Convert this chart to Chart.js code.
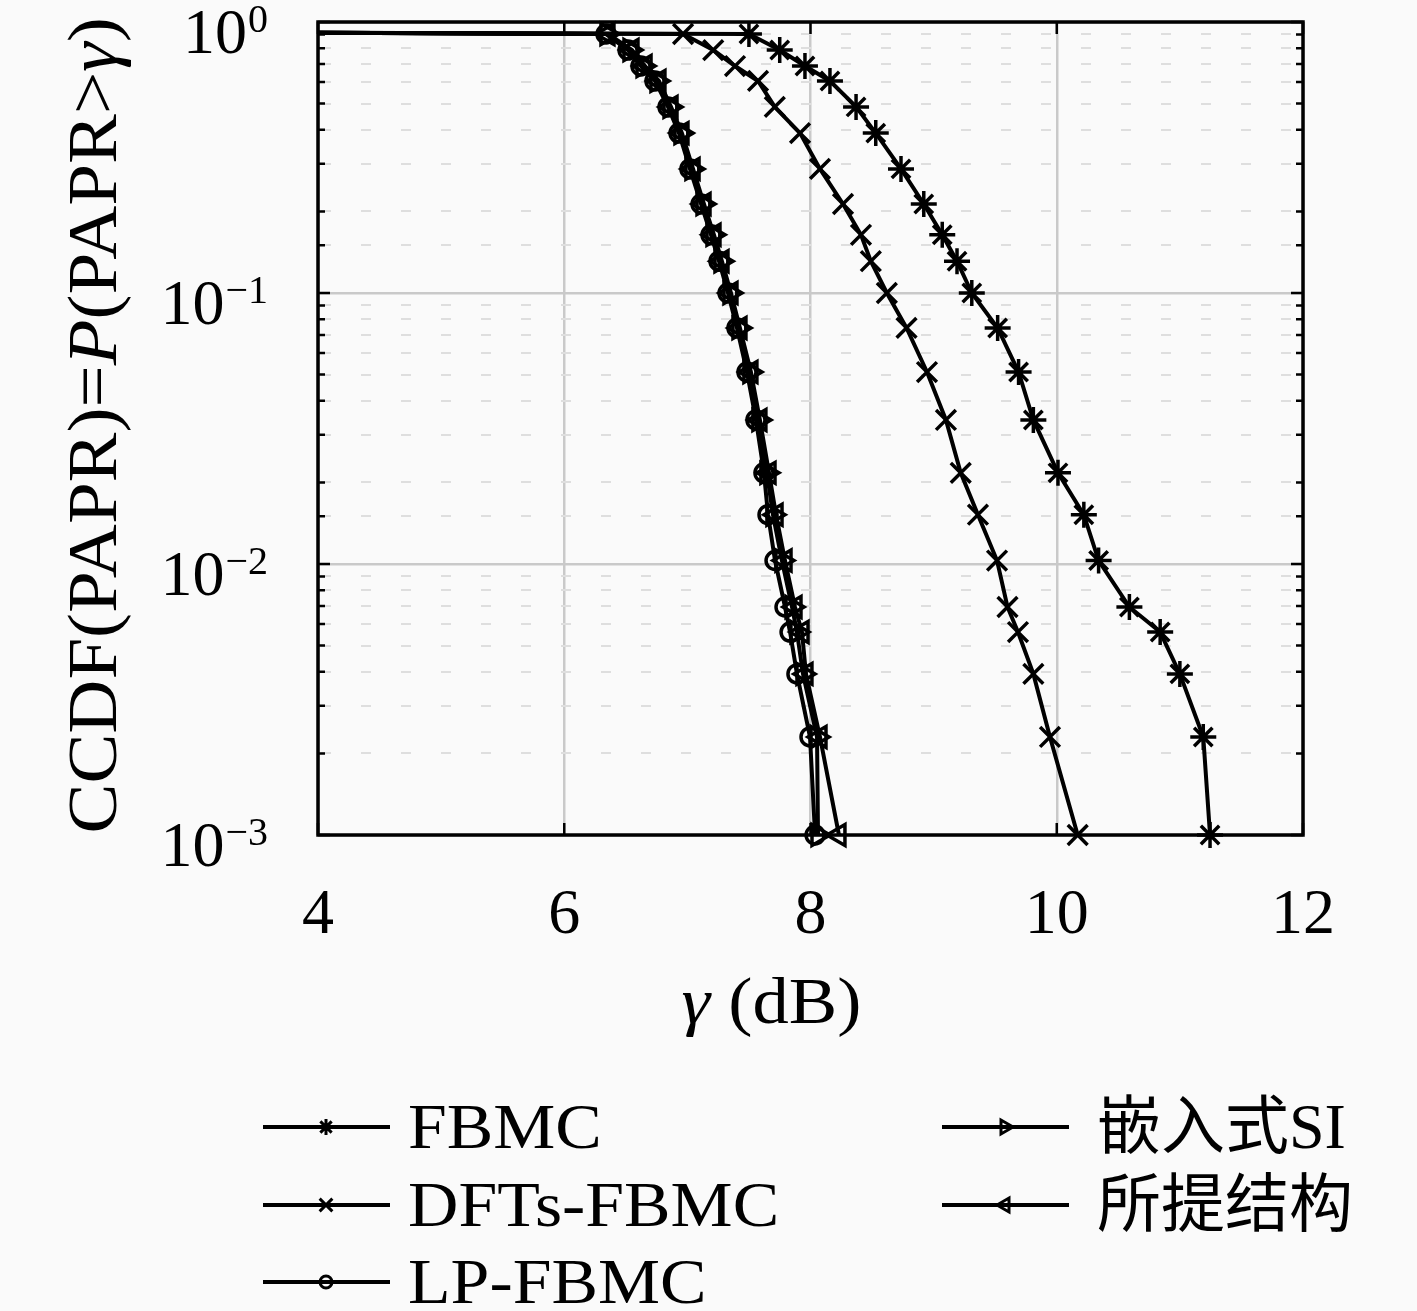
<!DOCTYPE html>
<html>
<head>
<meta charset="utf-8">
<script src="https://cdn.jsdelivr.net/npm/chart.js@4.4.1/dist/chart.umd.min.js"></script>
<style>
  html, body { margin: 0; padding: 0; background: #fafafa; }
  canvas { display: block; }
</style>
</head>
<body>
<canvas id="ccdfChart" width="1417" height="1311"></canvas>
<script>
// CCDF levels where the markers sit (shared by every curve), first entry is the start at 4 dB
const ccdfLevels = [0.912, 0.903, 0.788, 0.688, 0.606, 0.486, 0.389, 0.287, 0.213, 0.164, 0.131, 0.100,
  0.0743, 0.0511, 0.0340, 0.0217, 0.0152, 0.0103, 0.00694, 0.00561, 0.00393, 0.00230, 0.001];

// gamma (dB) for each level
const gammaFBMC = [4, 7.50, 7.75, 7.955, 8.158, 8.37, 8.53, 8.735, 8.92, 9.07, 9.19, 9.31,
  9.52, 9.69, 9.81, 10.01, 10.22, 10.34, 10.59, 10.84, 11.00, 11.19, 11.245];
const gammaDFTs = [4, 6.965, 7.21, 7.387, 7.574, 7.71, 7.915, 8.077, 8.264, 8.41, 8.49, 8.62,
  8.78, 8.946, 9.10, 9.22, 9.36, 9.515, 9.60, 9.685, 9.81, 9.945, 10.17];
const gammaLP = [4, 6.339, 6.518, 6.623, 6.737, 6.843, 6.932, 7.021, 7.111, 7.192, 7.257, 7.330,
  7.403, 7.484, 7.557, 7.622, 7.655, 7.712, 7.793, 7.834, 7.890, 7.996, 8.037];
const gammaSI = [4, 6.347, 6.534, 6.640, 6.753, 6.859, 6.948, 7.037, 7.127, 7.208, 7.273, 7.346,
  7.419, 7.508, 7.581, 7.646, 7.695, 7.768, 7.850, 7.890, 7.939, 8.053, 8.061];
const gammaProposed = [4, 6.355, 6.550, 6.656, 6.769, 6.867, 6.956, 7.046, 7.135, 7.216, 7.281, 7.354,
  7.427, 7.516, 7.589, 7.663, 7.720, 7.793, 7.874, 7.931, 7.963, 8.077, 8.231];

const schemeNames = ['FBMC', 'DFTs-FBMC', 'LP-FBMC', '嵌入式SI', '所提结构'];

const xTicks = [4, 6, 8, 10, 12];
const yTicks = [1, 0.1, 0.01, 0.001];
const yTickExponents = ['0', '\u22121', '\u22122', '\u22123'];

const SERIF = '"Liberation Serif", "DejaVu Serif", "Noto Sans CJK SC", serif';

const markers = [
  { style: 'star', r: 13, rot: 0, lr: 8 },
  { style: 'crossRot', r: 14, rot: 0, lr: 9 },
  { style: 'circle', r: 9, rot: 0, lr: 6 },
  { style: 'triangle', r: 12, rot: 90, lr: 8 },
  { style: 'triangle', r: 12, rot: 270, lr: 8 }
];

function isDecade(v) {
  const l = Math.log10(v);
  return Math.abs(l - Math.round(l)) < 1e-9;
}

function toPoints(gammas) {
  return gammas.map((g, i) => ({ x: g, y: ccdfLevels[i] }));
}

function makeDataset(i, gammas) {
  const m = markers[i];
  return {
    label: schemeNames[i],
    data: toPoints(gammas),
    showLine: true,
    borderColor: '#000',
    borderWidth: 4,
    tension: 0,
    pointStyle: m.style,
    pointRotation: m.rot,
    pointRadius: ctx => ctx.dataIndex === 0 ? 0 : m.r,
    pointBorderWidth: 3.5,
    pointBorderColor: '#000',
    pointBackgroundColor: 'rgba(0,0,0,0)',
    clip: false
  };
}

// own little marker drawer for the legend
function drawMarker(ctx, style, x, y, r, rotDeg) {
  ctx.beginPath();
  if (style === 'star') {
    for (let k = 0; k < 4; k++) {
      const a = k * Math.PI / 4;
      ctx.moveTo(x - Math.cos(a) * r, y - Math.sin(a) * r);
      ctx.lineTo(x + Math.cos(a) * r, y + Math.sin(a) * r);
    }
  } else if (style === 'crossRot') {
    for (let k = 0; k < 2; k++) {
      const a = Math.PI / 4 + k * Math.PI / 2;
      ctx.moveTo(x - Math.cos(a) * r, y - Math.sin(a) * r);
      ctx.lineTo(x + Math.cos(a) * r, y + Math.sin(a) * r);
    }
  } else if (style === 'circle') {
    ctx.arc(x, y, r, 0, Math.PI * 2);
  } else if (style === 'triangle') {
    let a = rotDeg * Math.PI / 180;
    ctx.moveTo(x + Math.sin(a) * r, y - Math.cos(a) * r);
    a += 2 * Math.PI / 3;
    ctx.lineTo(x + Math.sin(a) * r, y - Math.cos(a) * r);
    a += 2 * Math.PI / 3;
    ctx.lineTo(x + Math.sin(a) * r, y - Math.cos(a) * r);
    ctx.closePath();
  }
  ctx.stroke();
}

function stretchedText(ctx, text, x, y, sx, align) {
  ctx.save();
  ctx.translate(x, y);
  ctx.scale(sx, 1);
  ctx.textAlign = align || 'left';
  ctx.fillText(text, 0, 0);
  ctx.restore();
}

// draw a run of [text, fontPrefix] parts starting at x (left aligned)
function drawParts(ctx, parts, x, y, size, sx) {
  let cx = x;
  parts.forEach(p => {
    ctx.font = p[1] + size + 'px ' + SERIF;
    const w = ctx.measureText(p[0]).width * sx;
    stretchedText(ctx, p[0], cx, y, sx, 'left');
    cx += w;
  });
}

function partsWidth(ctx, parts, size, sx) {
  let total = 0;
  parts.forEach(p => {
    ctx.font = p[1] + size + 'px ' + SERIF;
    total += ctx.measureText(p[0]).width * sx;
  });
  return total;
}

const paperPlugin = {
  id: 'paper',
  beforeDraw(chart) {
    const c = chart.ctx;
    c.save();
    c.fillStyle = '#fafafa';
    c.fillRect(0, 0, chart.width, chart.height);
    c.restore();
  },
  beforeDatasetsDraw(chart) {
    const { ctx, chartArea: a, scales: { x, y } } = chart;
    ctx.save();
    ctx.strokeStyle = '#000';
    ctx.lineWidth = 2.5;
    ctx.beginPath();
    y.ticks.forEach(t => {
      const py = y.getPixelForValue(t.value);
      const len = isDecade(t.value) ? 12 : 7;
      ctx.moveTo(a.left, py); ctx.lineTo(a.left + len, py);
      ctx.moveTo(a.right, py); ctx.lineTo(a.right - len, py);
    });
    x.ticks.forEach(t => {
      const px = x.getPixelForValue(t.value);
      ctx.moveTo(px, a.bottom); ctx.lineTo(px, a.bottom - 12);
      ctx.moveTo(px, a.top); ctx.lineTo(px, a.top + 12);
    });
    ctx.stroke();
    ctx.lineWidth = 3.5;
    ctx.strokeRect(a.left, a.top, a.right - a.left, a.bottom - a.top);
    ctx.restore();
  },
  afterDraw(chart) {
    const { ctx, chartArea: a, scales: { x, y } } = chart;
    ctx.save();
    ctx.fillStyle = '#000';
    ctx.textBaseline = 'alphabetic';

    // y tick labels 10^n
    yTicks.forEach((v, i) => {
      const py = y.getPixelForValue(v);
      const right = a.left - 50;
      ctx.font = '40px ' + SERIF;
      ctx.textAlign = 'right';
      const ew = ctx.measureText(yTickExponents[i]).width;
      ctx.fillText(yTickExponents[i], right, py + 10);
      ctx.font = '64px ' + SERIF;
      ctx.fillText('10', right - ew - 1, py + 31);
    });

    // x tick labels
    ctx.font = '64px ' + SERIF;
    xTicks.forEach(v => {
      stretchedText(ctx, String(v), x.getPixelForValue(v), 933, 1.0, 'center');
    });

    // x axis title
    const xParts = [['\u03b3', 'italic '], [' (dB)', '']];
    const xw = partsWidth(ctx, xParts, 66, 1.1);
    drawParts(ctx, xParts, (a.left + a.right) / 2 - 39 - xw / 2, 1023, 66, 1.1);

    // y axis title with italic P and gamma
    const yParts = [
      ['CCDF(PAPR)=', ''],
      ['P', 'italic '],
      ['(PAPR>', ''],
      ['\u03b3', 'italic '],
      [')', '']
    ];
    const sx = 1.07, size = 70;
    const total = partsWidth(ctx, yParts, size, sx);
    ctx.save();
    ctx.translate(116, (a.top + a.bottom) / 2 - 3);
    ctx.rotate(-Math.PI / 2);
    drawParts(ctx, yParts, -total / 2, 0, size, sx);
    ctx.restore();

    // legend below the axes
    const rowsY = [1127, 1205, 1282];
    const colX = [263, 942];
    schemeNames.forEach((name, i) => {
      const col = i < 3 ? 0 : 1;
      const row = i < 3 ? i : i - 3;
      const lx = colX[col], ly = rowsY[row];
      ctx.strokeStyle = '#000';
      ctx.lineWidth = 4;
      ctx.beginPath();
      ctx.moveTo(lx, ly); ctx.lineTo(lx + 127, ly);
      ctx.stroke();
      const m = markers[i];
      ctx.lineWidth = 3;
      drawMarker(ctx, m.style, lx + 63, ly, m.lr, m.rot);
      ctx.font = '64px ' + SERIF;
      const latin = /^[\x00-\x7f]*$/.test(name);
      stretchedText(ctx, name, lx + (col === 0 ? 145 : 155), ly + 21, latin ? 1.09 : 1.0, 'left');
    });
    ctx.restore();
  }
};

const ctx = document.getElementById('ccdfChart').getContext('2d');
new Chart(ctx, {
  type: 'scatter',
  data: {
    datasets: [
      makeDataset(0, gammaFBMC),
      makeDataset(1, gammaDFTs),
      makeDataset(2, gammaLP),
      makeDataset(3, gammaSI),
      makeDataset(4, gammaProposed)
    ]
  },
  options: {
    responsive: false,
    animation: false,
    devicePixelRatio: 1,
    layout: { padding: { left: 0, right: 114, top: 22, bottom: 0 } },
    plugins: { legend: { display: false }, tooltip: { enabled: false } },
    scales: {
      x: {
        type: 'linear',
        min: 4,
        max: 12,
        ticks: { stepSize: 2, display: false },
        grid: { color: '#c9c9c9', lineWidth: 2.5, drawTicks: false },
        border: { display: false },
        afterFit(scale) { scale.height = 476; }
      },
      y: {
        type: 'logarithmic',
        min: 0.001,
        max: 1,
        ticks: { display: false, autoSkip: false },
        grid: {
          drawTicks: false,
          color: c => (c.tick && isDecade(c.tick.value)) ? '#c9c9c9' : '#dedede',
          lineWidth: c => (c.tick && isDecade(c.tick.value)) ? 2.5 : 2
        },
        border: {
          display: false,
          dash: c => (c.tick && !isDecade(c.tick.value)) ? [10, 30] : [],
          dashOffset: -3
        },
        afterFit(scale) { scale.width = 318; }
      }
    }
  },
  plugins: [paperPlugin]
});
</script>
</body>
</html>
